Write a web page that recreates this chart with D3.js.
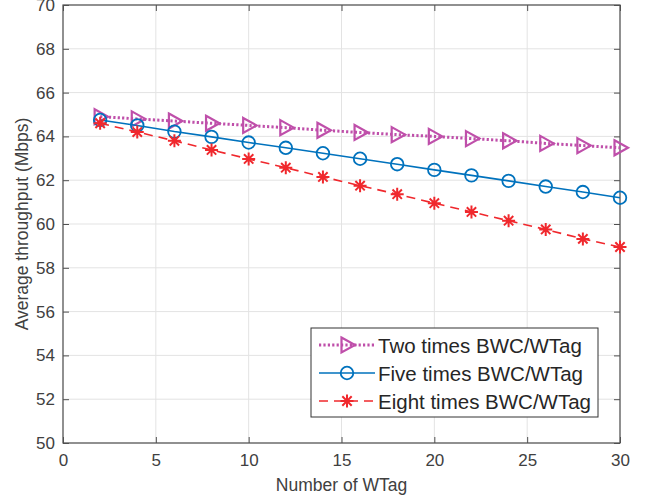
<!DOCTYPE html>
<html>
<head>
<meta charset="utf-8">
<script src="https://cdn.jsdelivr.net/npm/d3@7"></script>
<style>
  body { margin: 0; background: #fff; }
  svg { display: block; font-family: "Liberation Sans", Arial, sans-serif; }
</style>
</head>
<body>
<div id="chart"></div>
<script>
// Datos
const wtags = [2, 4, 6, 8, 10, 12, 14, 16, 18, 20, 22, 24, 26, 28, 30];
const twoTimes = [64.9, 64.8, 64.7, 64.6, 64.5, 64.4, 64.28, 64.18, 64.08, 64.0, 63.9, 63.8, 63.68, 63.58, 63.48];
const fiveTimes = [64.75, 64.5, 64.22, 63.98, 63.72, 63.48, 63.23, 62.98, 62.73, 62.47, 62.22, 61.97, 61.71, 61.46, 61.2];
const eightTimes = [64.6, 64.2, 63.8, 63.38, 62.97, 62.57, 62.15, 61.75, 61.36, 60.95, 60.55, 60.15, 59.75, 59.32, 58.95];
const xTicks = [0, 5, 10, 15, 20, 25, 30];
const yTicks = [50, 52, 54, 56, 58, 60, 62, 64, 66, 68, 70];

const series = [
    { name: 'Two times BWC/WTag', values: twoTimes, color: '#bf4faa', dash: '2.2,2.2', width: 3, marker: 'tri' },
    { name: 'Five times BWC/WTag', values: fiveTimes, color: '#0072bd', dash: null, width: 1.6, marker: 'circle' },
    { name: 'Eight times BWC/WTag', values: eightTimes, color: '#f0282d', dash: '9,6', width: 1.6, marker: 'star' }
];

const W = 655, H = 501;
const margin = { top: 5, right: 35, bottom: 58, left: 63 };
const width = W - margin.left - margin.right;
const height = H - margin.top - margin.bottom;

const svg = d3.select('#chart').append('svg')
    .attr('width', W).attr('height', H);
const g = svg.append('g').attr('transform', `translate(${margin.left},${margin.top})`);

const x = d3.scaleLinear().domain([0, 30]).range([0, width]);
const y = d3.scaleLinear().domain([50, 70]).range([height, 0]);

// Rejilla
g.append('g').selectAll('line').data(xTicks).join('line')
    .attr('x1', d => x(d)).attr('x2', d => x(d))
    .attr('y1', 0).attr('y2', height)
    .attr('stroke', '#e3e3e3').attr('stroke-width', 1);
g.append('g').selectAll('line').data(yTicks).join('line')
    .attr('x1', 0).attr('x2', width)
    .attr('y1', d => y(d)).attr('y2', d => y(d))
    .attr('stroke', '#e3e3e3').attr('stroke-width', 1);

// Ejes (ticks hacia dentro, estilo MATLAB)
const axisColor = '#505050';
const styleAxis = sel => {
    sel.select('.domain').remove();
    sel.selectAll('.tick line').attr('stroke', axisColor).attr('stroke-width', 1);
    sel.selectAll('.tick text').attr('fill', '#404040').attr('font-size', '17px')
        .attr('font-family', '"Liberation Sans", Arial, sans-serif');
};
g.append('g').attr('transform', `translate(0,${height})`)
    .call(d3.axisBottom(x).tickValues(xTicks).tickSizeInner(-6).tickSizeOuter(0).tickPadding(11))
    .call(styleAxis);
g.append('g').attr('transform', 'translate(0,0)')
    .call(d3.axisTop(x).tickValues(xTicks).tickSizeInner(-6).tickSizeOuter(0).tickFormat(''))
    .call(styleAxis);
g.append('g')
    .call(d3.axisLeft(y).tickValues(yTicks).tickSizeInner(-6).tickSizeOuter(0).tickPadding(8))
    .call(styleAxis);
g.append('g').attr('transform', `translate(${width},0)`)
    .call(d3.axisRight(y).tickValues(yTicks).tickSizeInner(-6).tickSizeOuter(0).tickFormat(''))
    .call(styleAxis);

g.append('rect')
    .attr('x', 0).attr('y', 0).attr('width', width).attr('height', height)
    .attr('fill', 'none').attr('stroke', axisColor).attr('stroke-width', 1.2);

// Etiquetas de ejes
svg.append('text')
    .attr('x', margin.left + width / 2).attr('y', H - 10)
    .attr('text-anchor', 'middle').attr('font-size', '17.5px').attr('fill', '#404040')
    .text('Number of WTag');
svg.append('text')
    .attr('transform', `translate(28,${margin.top + height / 2}) rotate(-90)`)
    .attr('text-anchor', 'middle').attr('font-size', '17.5px').attr('fill', '#404040')
    .text('Average throughput (Mbps)');

// Marcadores
function drawMarker(sel, type, color) {
    if (type === 'tri') {
        sel.append('path')
            .attr('d', 'M-5.5,-7.5 L8,0 L-5.5,7.5 Z')
            .attr('fill', 'none').attr('stroke', color).attr('stroke-width', 2.2);
    } else if (type === 'circle') {
        sel.append('circle').attr('r', 6.3)
            .attr('fill', 'none').attr('stroke', color).attr('stroke-width', 1.8);
    } else {
        const r = 6.5, d = r * 0.72;
        sel.append('path')
            .attr('d', `M0,${-r}V${r}M${-r},0H${r}M${-d},${-d}L${d},${d}M${-d},${d}L${d},${-d}`)
            .attr('fill', 'none').attr('stroke', color).attr('stroke-width', 2);
    }
}

const line = d3.line().x(d => x(d[0])).y(d => y(d[1]));

series.forEach(s => {
    const pts = wtags.map((w, i) => [w, s.values[i]]);
    g.append('path')
        .datum(pts)
        .attr('fill', 'none')
        .attr('stroke', s.color)
        .attr('stroke-width', s.width)
        .attr('stroke-dasharray', s.dash)
        .attr('d', line);
    pts.forEach(p => {
        const m = g.append('g').attr('transform', `translate(${x(p[0])},${y(p[1])})`);
        drawMarker(m, s.marker, s.color);
    });
});

// Leyenda
const legend = svg.append('g').attr('transform', 'translate(311,328)');
legend.append('rect')
    .attr('width', 287).attr('height', 89)
    .attr('fill', '#fff').attr('stroke', '#333').attr('stroke-width', 1);
series.forEach((s, i) => {
    const row = legend.append('g').attr('transform', `translate(0,${17 + i * 28})`);
    row.append('line')
        .attr('x1', 8).attr('x2', 64).attr('y1', 0).attr('y2', 0)
        .attr('stroke', s.color).attr('stroke-width', s.width)
        .attr('stroke-dasharray', s.dash);
    const m = row.append('g').attr('transform', 'translate(36,0)');
    drawMarker(m, s.marker, s.color);
    row.append('text')
        .attr('x', 67).attr('y', 7.5)
        .attr('font-size', '20.5px').attr('fill', '#262626')
        .text(s.name);
});
</script>
</body>
</html>
